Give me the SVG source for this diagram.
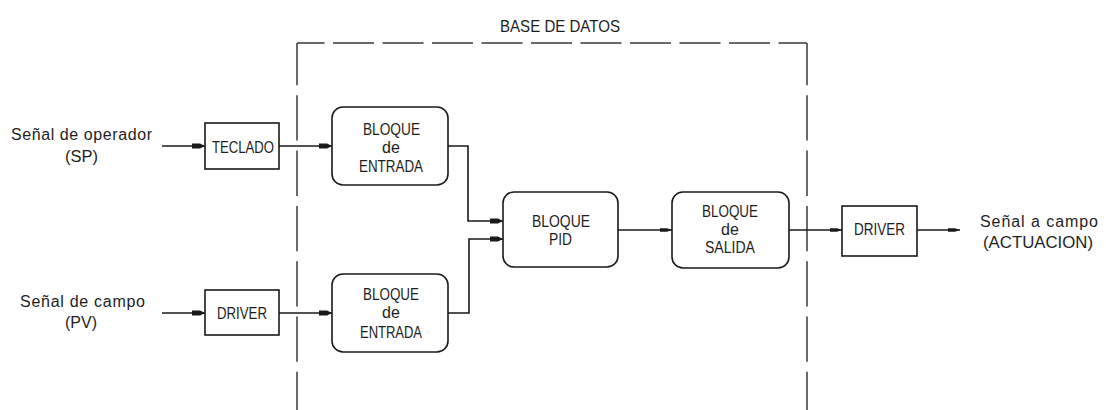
<svg xmlns="http://www.w3.org/2000/svg" width="1106" height="410" viewBox="0 0 1106 410">
  <defs>
    <style>
      .box { fill: #fff; stroke: #1a1a1a; stroke-width: 1.6; }
      .wire { fill: none; stroke: #1a1a1a; stroke-width: 1.6; }
      .bound { fill: none; stroke: #3a3a3a; stroke-width: 1.5; }
      .lbl { font-family: "Liberation Sans", Arial, sans-serif; fill: #1e1e1e; }
      .cap { font-size: 17px; }
      .sm { font-size: 16px; }
      .mid { text-anchor: middle; }
    </style>
    <marker id="arrow" viewBox="0 0 14 6" markerWidth="14" markerHeight="6" refX="13" refY="3" orient="auto" markerUnits="userSpaceOnUse">
      <path d="M0,0.5 L8,0.5 L13,3 L8,5.5 L0,5.5 Z" fill="#1a1a1a"/>
    </marker>
    <marker id="arrow-s" viewBox="0 0 14 6" markerWidth="14" markerHeight="6" refX="13" refY="3" orient="auto" markerUnits="userSpaceOnUse">
      <path d="M1,1.3 L8,1.3 L13,3 L8,4.7 L1,4.7 Z" fill="#1a1a1a"/>
    </marker>
  </defs>

  <rect x="0" y="0" width="1106" height="410" fill="#fff"/>

  <!-- database boundary (open at the bottom) -->
  <g id="base-de-datos">
    <path class="bound" d="M297,43 H807" stroke-dasharray="41 8.5" stroke-dashoffset="13.5"/>
    <path class="bound" d="M297,43 V410" stroke-dasharray="45.3 10" stroke-dashoffset="3"/>
    <path class="bound" d="M807,43 V410" stroke-dasharray="45.3 10" stroke-dashoffset="3"/>
    <text class="lbl cap" x="500" y="32" textLength="120" lengthAdjust="spacingAndGlyphs">BASE DE DATOS</text>
  </g>

  <!-- connectors -->
  <g id="connectors">
    <path class="wire" d="M162,146 H205" marker-end="url(#arrow)"/>
    <path class="wire" d="M279,146 H332" marker-end="url(#arrow)"/>
    <path class="wire" d="M162,313 H205" marker-end="url(#arrow)"/>
    <path class="wire" d="M279,313 H332" marker-end="url(#arrow)"/>
    <path class="wire" d="M448,146 H468 V221 H503" marker-end="url(#arrow)"/>
    <path class="wire" d="M448,313 H469 V239 H503" marker-end="url(#arrow)"/>
    <path class="wire" d="M618,230 H672" marker-end="url(#arrow-s)"/>
    <path class="wire" d="M789,230 H842" marker-end="url(#arrow-s)"/>
    <path class="wire" d="M917,230 H960" marker-end="url(#arrow-s)"/>
  </g>

  <!-- operator set point input -->
  <g id="senal-operador">
    <text class="lbl sm" x="11" y="140" textLength="141" lengthAdjust="spacing">Señal de operador</text>
    <text class="lbl sm" x="65" y="162" textLength="33" lengthAdjust="spacingAndGlyphs">(SP)</text>
  </g>

  <g id="teclado">
    <rect class="box" x="205" y="123" width="74" height="46"/>
    <text class="lbl cap" x="212" y="153" textLength="62" lengthAdjust="spacingAndGlyphs">TECLADO</text>
  </g>

  <g id="bloque-entrada-sp">
    <rect class="box" x="332" y="107" width="116" height="78" rx="11"/>
    <text class="lbl cap" x="363" y="135" textLength="57" lengthAdjust="spacingAndGlyphs">BLOQUE</text>
    <text class="lbl sm mid" x="391" y="153">de</text>
    <text class="lbl cap" x="359" y="172" textLength="64" lengthAdjust="spacingAndGlyphs">ENTRADA</text>
  </g>

  <!-- field process variable input -->
  <g id="senal-campo">
    <text class="lbl sm" x="20" y="307" textLength="125" lengthAdjust="spacing">Señal de campo</text>
    <text class="lbl sm" x="65" y="328" textLength="32" lengthAdjust="spacingAndGlyphs">(PV)</text>
  </g>

  <g id="driver-entrada">
    <rect class="box" x="205" y="290" width="74" height="45"/>
    <text class="lbl cap" x="217" y="319" textLength="50" lengthAdjust="spacingAndGlyphs">DRIVER</text>
  </g>

  <g id="bloque-entrada-pv">
    <rect class="box" x="332" y="274" width="116" height="78" rx="11"/>
    <text class="lbl cap" x="363" y="300" textLength="56" lengthAdjust="spacingAndGlyphs">BLOQUE</text>
    <text class="lbl sm mid" x="391" y="318">de</text>
    <text class="lbl cap" x="360" y="338" textLength="62" lengthAdjust="spacingAndGlyphs">ENTRADA</text>
  </g>

  <g id="bloque-pid">
    <rect class="box" x="503" y="192" width="115" height="75" rx="11"/>
    <text class="lbl cap" x="532" y="227" textLength="58" lengthAdjust="spacingAndGlyphs">BLOQUE</text>
    <text class="lbl cap" x="549" y="245" textLength="23" lengthAdjust="spacingAndGlyphs">PID</text>
  </g>

  <g id="bloque-salida">
    <rect class="box" x="672" y="192" width="117" height="76" rx="11"/>
    <text class="lbl cap" x="702" y="217" textLength="56" lengthAdjust="spacingAndGlyphs">BLOQUE</text>
    <text class="lbl sm mid" x="730" y="235">de</text>
    <text class="lbl cap" x="705" y="253" textLength="50" lengthAdjust="spacingAndGlyphs">SALIDA</text>
  </g>

  <g id="driver-salida">
    <rect class="box" x="842" y="206" width="75" height="50"/>
    <text class="lbl cap" x="854" y="235" textLength="51" lengthAdjust="spacingAndGlyphs">DRIVER</text>
  </g>

  <!-- actuation output -->
  <g id="senal-actuacion">
    <text class="lbl sm" x="980" y="227" textLength="118" lengthAdjust="spacing">Señal a campo</text>
    <text class="lbl sm" x="983" y="248" textLength="110" lengthAdjust="spacingAndGlyphs">(ACTUACION)</text>
  </g>
</svg>
